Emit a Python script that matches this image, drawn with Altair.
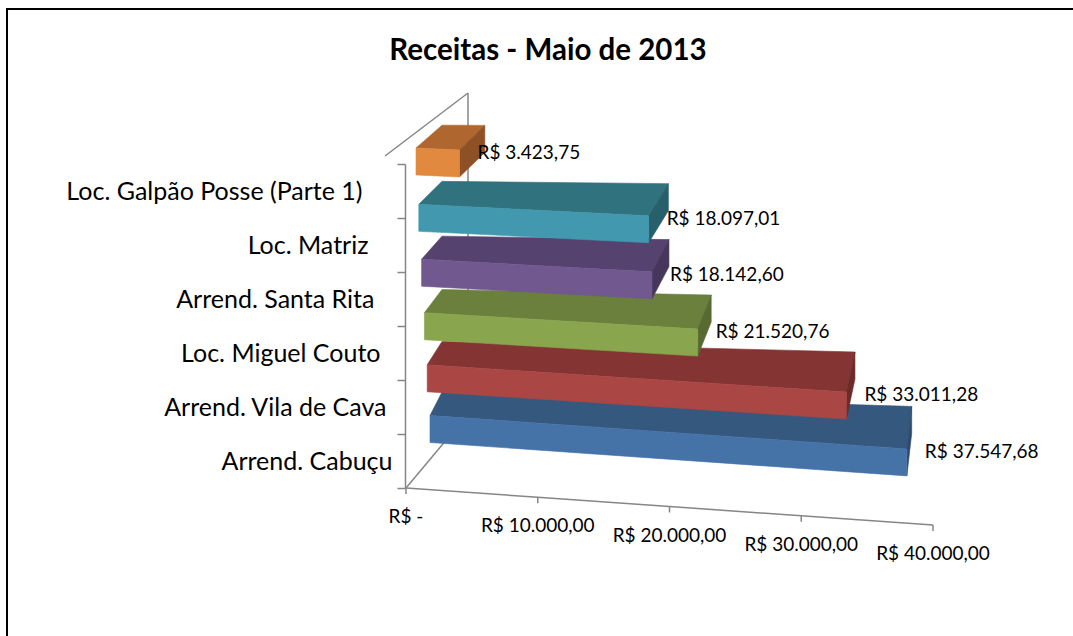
import json
import altair as alt
import pandas as pd

# ---- data ----
title_text = "Receitas - Maio de 2013"
categories = [
    "Loc. Galpão Posse (Parte 1)",
    "Loc. Matriz",
    "Arrend. Santa Rita",
    "Loc. Miguel Couto",
    "Arrend. Vila de Cava",
    "Arrend. Cabuçu",
]
values = [3423.75, 18097.01, 18142.60, 21520.76, 33011.28, 37547.68]
x_ticks = [0, 10000, 20000, 30000, 40000]

# ---- styles ----
front_colors = ["#E0893F", "#4198AF", "#71588F", "#89A54E", "#AA4643", "#4572A7"]
top_colors = ["#B0672F", "#31727F", "#56426E", "#6A803C", "#843433", "#35587F"]
side_colors = ["#8E5126", "#27606B", "#47365B", "#576A31", "#6C2A29", "#2C4A6B"]

FONT = "Lato"
GRAY = "#868686"
W, H = 527, 324          # plot area
ROW_PX = 54              # px per category row
X_MAX = 40000


def brl(v):
    if v == 0:
        return "R$ -"
    s = f"{v:,.2f}".replace(",", "X").replace(".", ",").replace("X", ".")
    return "R$ " + s


# ---- 3D projection of the bars (perspective style constants) ----
BAR_RANGE = 508                  # bar plane: px for X_MAX
PPU = BAR_RANGE / X_MAX
FRONT_H = 27


def row_top(r):
    return -16 + 57 * r - 0.7 * r * r


def row_slope(r):
    return 0.045 + 0.005 * r


def row_left(r):
    return 11 + 2.8 * r


def depth_dx(xpx, r):
    return 12 + 2.8 * (5 - r) - 0.015 * (xpx - row_left(r))


def depth_dy(xpx):
    return -(23 + 0.04 * (xpx - 15))


rows = []
label_rows = []
for r, (cat, v) in enumerate(zip(categories, values)):
    XL = row_left(r)
    XR = XL + v * PPU
    T = row_top(r)
    k = row_slope(r)

    def ft(x):
        return T + k * (x - XL)

    ftr = ft(XR)
    dxl, dyl = depth_dx(XL, r), depth_dy(XL)
    dxr, dyr = depth_dx(XR, r), depth_dy(XR)
    btl = (XL + dxl, T + dyl)
    btr = (XR + dxr, ftr + dyr)

    def back(x):
        return btl[1] + (btr[1] - btl[1]) * (x - btl[0]) / (btr[0] - btl[0])

    faces = {
        "top": (top_colors[r], [
            (XL, T, T),
            (btl[0], btl[1], ft(btl[0])),
            (XR, back(XR), ftr),
            (btr[0], btr[1], btr[1]),
        ]),
        "side": (side_colors[r], [
            (XR, ftr, ftr + FRONT_H),
            (btr[0], btr[1], btr[1] + FRONT_H),
        ]),
        "front": (front_colors[r], [
            (XL, T, T + FRONT_H),
            (XR, ftr, ftr + FRONT_H),
        ]),
    }
    for face, (col, pts) in faces.items():
        for (px, py, py2) in pts:
            rows.append({
                "bar": r, "face": face, "col": col,
                "x": px / PPU, "y": py / ROW_PX, "y2": py2 / ROW_PX,
            })
    label_rows.append({"x": XR / PPU, "y": (ftr + 3) / ROW_PX, "label": brl(v)})

geo = pd.DataFrame(rows)
labels_df = pd.DataFrame(label_rows)

# ---- slanted value axis (front plane) ----
AX_RANGE = (1, 528)
AX_DROP = 37  # px the axis falls from 0 to X_MAX
tick_df = pd.DataFrame({
    "t": x_ticks,
    "y": [(H + AX_DROP * t / X_MAX) / ROW_PX for t in x_ticks],
    "y2": [(H + AX_DROP * t / X_MAX + 6) / ROW_PX for t in x_ticks],
    "label": [brl(t) for t in x_ticks],
})

bar_x = alt.Scale(domain=[0, X_MAX], range=[0, BAR_RANGE], nice=False, zero=False)
ax_x = alt.Scale(domain=[0, X_MAX], range=list(AX_RANGE), nice=False, zero=False)
row_y = alt.Scale(domain=[0, H / ROW_PX], range=[0, H], nice=False, zero=False)

dummy = alt.Chart(pd.DataFrame({"d": [0]}))
layers = []

# border of the chart area
layers.append(
    dummy.mark_rect(filled=False, stroke="black", strokeWidth=2).encode(
        x=alt.value(-398), x2=alt.value(700), y=alt.value(-155), y2=alt.value(500)
    )
)
# back-wall edges
for (x1, y1, x2, y2) in [(-20, -8, 63, -71), (63, -71, 63, 250), (1, H, 63, 250)]:
    layers.append(
        dummy.mark_rule(color=GRAY, strokeWidth=1.5).encode(
            x=alt.value(x1), y=alt.value(y1), x2=alt.value(x2), y2=alt.value(y2)
        )
    )

# slanted value axis line, ticks
layers.append(
    alt.Chart(tick_df).mark_line(color=GRAY, strokeWidth=1.5).encode(
        x=alt.X("t:Q", scale=ax_x, axis=None),
        y=alt.Y("y:Q", scale=row_y, axis=None),
    )
)
layers.append(
    alt.Chart(tick_df).mark_rule(color=GRAY, strokeWidth=1.5).encode(
        x=alt.X("t:Q", scale=ax_x, axis=None),
        y=alt.Y("y:Q", scale=row_y, axis=None),
        y2="y2:Q",
    )
)

# 3D bars, drawn from the front row to the back row
for r in reversed(range(len(categories))):
    layers.append(
        alt.Chart(geo[geo["bar"] == r]).mark_area(
            orient="vertical", interpolate="linear", strokeWidth=0.6
        ).encode(
            x=alt.X("x:Q", scale=bar_x, axis=None),
            y=alt.Y("y:Q", scale=row_y, axis=None, stack=None),
            y2="y2:Q",
            detail="face:N",
            color=alt.Color("col:N", scale=None),
            stroke=alt.Stroke("col:N", scale=None),
        )
    )

# value labels
layers.append(
    alt.Chart(labels_df).mark_text(
        align="left", baseline="middle", dx=18, font=FONT, fontSize=19, color="black"
    ).encode(
        x=alt.X("x:Q", scale=bar_x, axis=None),
        y=alt.Y("y:Q", scale=row_y, axis=None),
        text="label:N",
    )
)

# value axis labels
layers.append(
    alt.Chart(tick_df).mark_text(
        align="center", baseline="middle", dy=29, font=FONT, fontSize=19, color="black"
    ).encode(
        x=alt.X("t:Q", scale=ax_x, axis=None),
        y=alt.Y("y:Q", scale=row_y, axis=None),
        text="label:N",
    )
)

# category axis (labels drift right toward the front, like the slanted axis)
cat_array = json.dumps(categories, ensure_ascii=False)
layers.append(
    alt.Chart(pd.DataFrame({"cat": categories})).mark_text(text="", opacity=0).encode(
        x=alt.value(0),
        y=alt.Y(
            "cat:N",
            sort=categories,
            scale=alt.Scale(domain=categories, paddingInner=0, paddingOuter=0),
            axis=alt.Axis(
                title=None,
                tickBand="extent",
                tickSize=8,
                tickColor=GRAY,
                tickWidth=1.5,
                domainColor=GRAY,
                domainWidth=1.5,
                labelFont=FONT,
                labelFontSize=25,
                labelColor="black",
                labelPadding={"expr": f"35 - 6 * indexof({cat_array}, datum.value)"},
                labelLimit=400,
            ),
        ),
    )
)

# title
layers.append(
    dummy.mark_text(
        text=title_text, font=FONT, fontSize=29.5, fontWeight="bold", color="black",
        align="center", baseline="middle"
    ).encode(x=alt.value(143), y=alt.value(-113))
)

chart = alt.layer(*layers).resolve_scale(
    x="independent", y="independent"
).properties(
    width=W,
    height=H,
    padding={"left": 405, "top": 164, "right": 1073 - 405 - W, "bottom": 636 - 164 - H},
    autosize="none",
    background="white",
).configure_view(stroke=None)

chart.save("out.html", embed_options={"renderer": "svg", "actions": False})
